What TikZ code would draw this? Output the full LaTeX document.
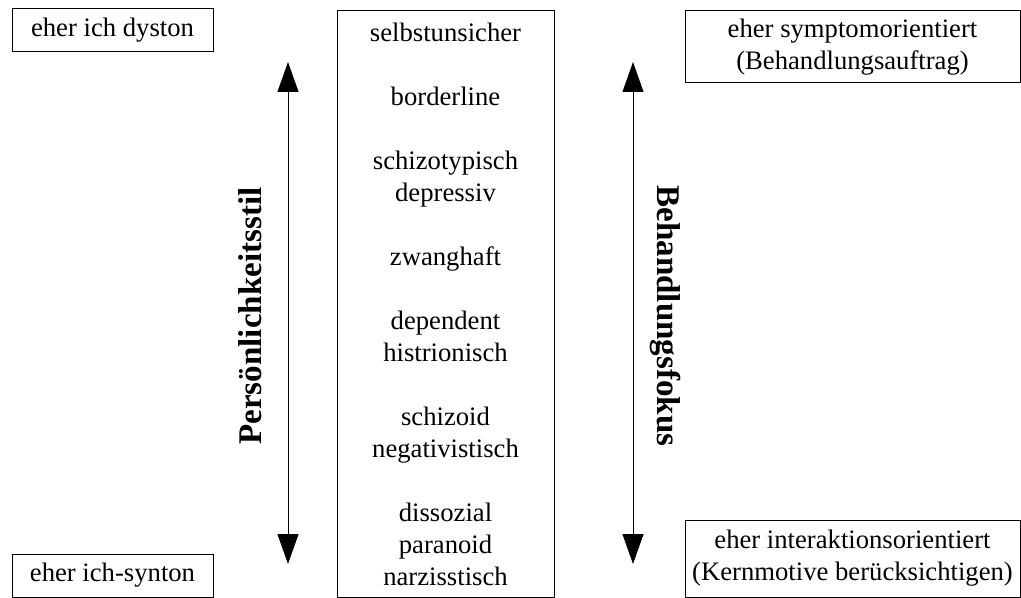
\documentclass[tikz,border=0pt]{standalone}
\usepackage{fontspec}
\setmainfont{Liberation Serif}
\usepackage{tikz}
\usetikzlibrary{arrows.meta, positioning}
\tikzset{
    polbox/.style={draw, line width=0.75pt, inner sep=0pt, minimum width=150.75pt, minimum height=32.25pt, font=\fontsize{20}{24}\selectfont},
    fokusbox/.style={draw, line width=0.75pt, inner sep=0pt, minimum width=251.25pt, align=center, font=\fontsize{20}{24}\selectfont},
    listbox/.style={draw, line width=0.75pt, inner sep=0pt, minimum width=162.75pt, minimum height=439.5pt, align=center, font=\fontsize{20}{24}\selectfont},
    achsentitel/.style={inner sep=0pt, font=\fontsize{24.8}{28}\selectfont\bfseries},
    achse/.style={{Triangle[length=22.5pt,width=15.75pt]}-{Triangle[length=22.5pt,width=15.75pt]}, line width=0.75pt}
}

\begin{document}
\begin{tikzpicture}[x=0.75pt, y=-0.75pt]
    \useasboundingbox (0,0) rectangle (1021,598);

    % Pole links
    \node[polbox] (dyston) at (112.5,30.5) {eher ich dyston};
    \node[polbox] (synton) at (112.5,575.5) {eher ich-synton};

    % Stoerungen
    \node[listbox] (liste) at (445.5,304) {selbstunsicher\\[24pt]
        borderline\\[24pt]
        schizotypisch\\ depressiv\\[24pt]
        zwanghaft\\[24pt]
        dependent\\ histrionisch\\[24pt]
        schizoid\\ negativistisch\\[24pt]
        dissozial\\ paranoid\\ narzisstisch};

    % Pole rechts
    \node[fokusbox, minimum height=54pt] (symptom) at (852.5,47) {eher symptomorientiert\\(Behandlungsauftrag)};
    \node[fokusbox, minimum height=57.75pt] (interaktion) at (852.5,558.5) {eher interaktionsorientiert\\(Kernmotive berücksichtigen)};

    % Achsen
    \coordinate (stiloben) at (288,62);
    \coordinate (stilunten) at (288,564);
    \coordinate (fokusoben) at (633,62);
    \coordinate (fokusunten) at (633,564);
    \draw[achse] (stilunten) -- (stiloben);
    \draw[achse] (fokusunten) -- (fokusoben);

    \node[achsentitel, rotate=90] (stil) at (250,316) {Persönlichkeitsstil};
    \node[achsentitel, rotate=-90] (fokus) at (665,316) {Behandlungsfokus};
\end{tikzpicture}
\end{document}
